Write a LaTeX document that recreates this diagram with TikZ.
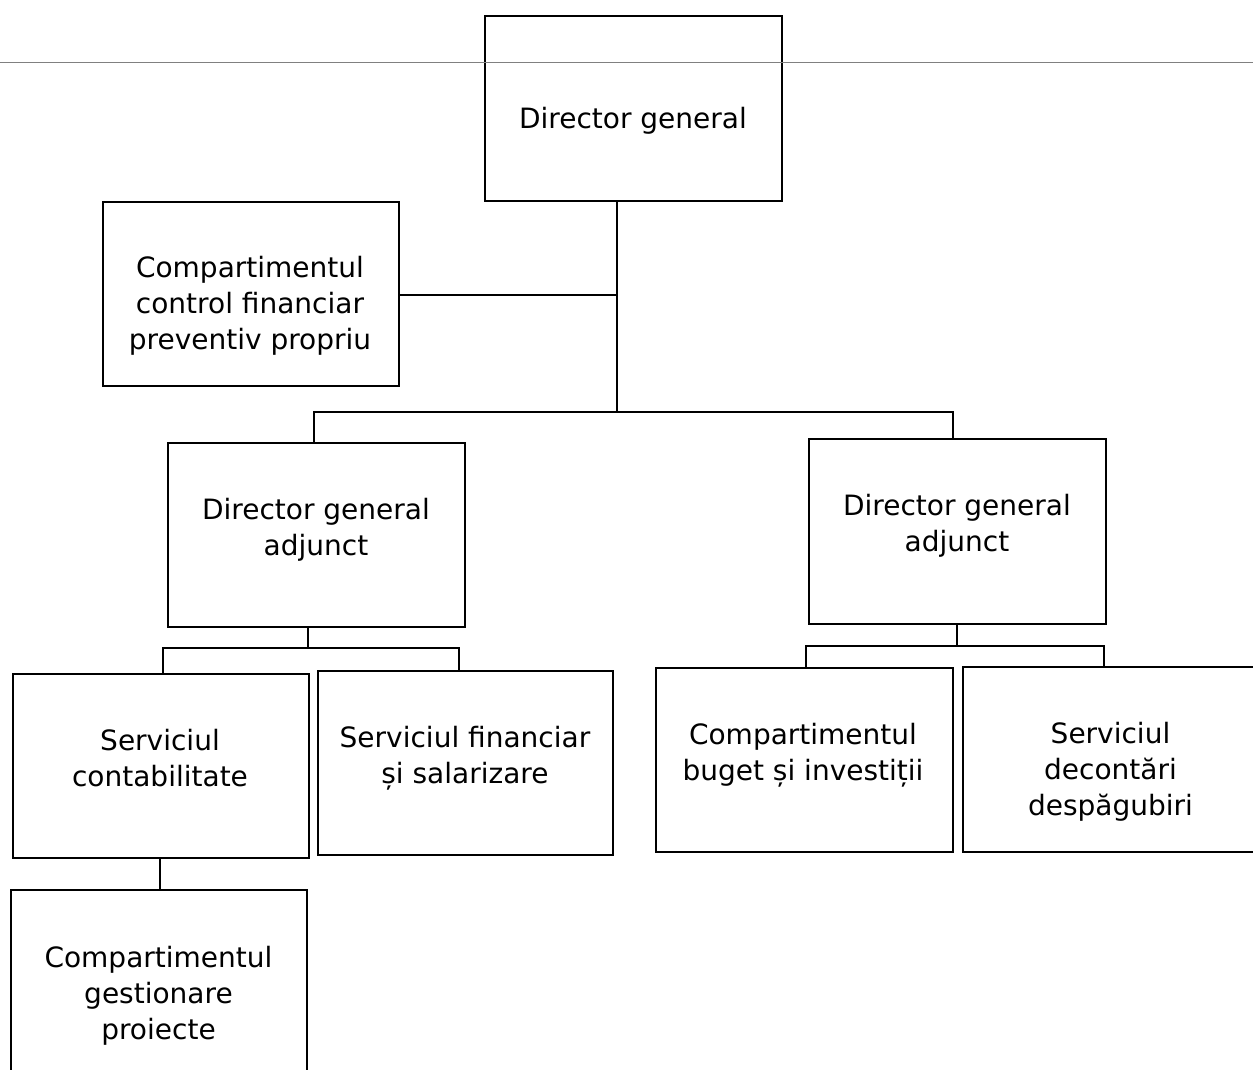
\documentclass[tikz,border=0pt]{standalone}
\usepackage{fontspec}
\setmainfont{DejaVu Sans}
\begin{document}
\begin{tikzpicture}[x=1pt,y=-1pt,
  box/.style={draw=black, line width=2.3pt, inner sep=0pt, outer sep=0pt, minimum width=296pt, minimum height=184pt},
  lbl/.style={anchor=base, align=center, inner sep=0pt, font=\fontsize{28}{36}\selectfont, text=black},
  conn/.style={draw=black, line width=2.3pt, line cap=rect},
  rule/.style={draw=black!50, line width=1pt}]
\useasboundingbox (0,0) rectangle (1253,1070);
\clip (0,0) rectangle (1253,1070);
\fill[white] (0,0) rectangle (1253,1070);
% boxes
\node[box, minimum width=297pt, minimum height=185pt] (dg) at (633.5,108.5) {};
\node[box] (cfp) at (251,294) {};
\node[box, minimum width=297pt] (dga1) at (316.5,535) {};
\node[box, minimum width=297pt, minimum height=185pt] (dga2) at (957.5,531.5) {};
\node[box] (sc) at (161,766) {};
\node[box, minimum width=295pt] (sf) at (465.5,763) {};
\node[box, minimum width=297pt] (cb) at (804.5,760) {};
\node[box, minimum height=185pt] (sd) at (1111,759.5) {};
\node[box] (cg) at (159,982) {};
% texts (base anchor = baseline of the last line)
\node[lbl] (tdg) at (633,128.5) {Director general};
\node[lbl] (tcfp) at (250,349.5) {Compartimentul\\control financiar\\preventiv propriu};
\node[lbl] (tdga1) at (316,555.5) {Director general\\adjunct};
\node[lbl] (tdga2) at (957,551.5) {Director general\\adjunct};
\node[lbl] (tsc) at (160,786.5) {Serviciul\\contabilitate};
\node[lbl] (tsf) at (465,783.5) {Serviciul financiar\\și salarizare};
\node[lbl] (tcb) at (803,780.5) {Compartimentul\\buget și investiții};
\node[lbl] (tsd) at (1110.5,815.5) {Serviciul\\decontări\\despăgubiri};
\node[lbl] (tcg) at (158.5,1039.5) {Compartimentul\\gestionare\\proiecte};
% junction coordinates
\coordinate (j0) at (617,412);
\coordinate (j0a) at (617,295);
\coordinate (j0l) at (314,412);
\coordinate (j0r) at (953,412);
\coordinate (j1) at (308,648);
\coordinate (j1l) at (163,648);
\coordinate (j1r) at (459,648);
\coordinate (j2) at (957,646);
\coordinate (j2l) at (806,646);
\coordinate (j2r) at (1104,646);
\coordinate (j3) at (160,874);
% connectors
\draw[conn] (j0 |- dg.south) -- (j0);
\draw[conn] (cfp.east |- j0a) -- (j0a);
\draw[conn] (j0l |- dga1.north) -- (j0l) -- (j0r) -- (j0r |- dga2.north);
\draw[conn] (j1 |- dga1.south) -- (j1);
\draw[conn] (j1l |- sc.north) -- (j1l) -- (j1r) -- (j1r |- sf.north);
\draw[conn] (j2 |- dga2.south) -- (j2);
\draw[conn] (j2l |- cb.north) -- (j2l) -- (j2r) -- (j2r |- sd.north);
\draw[conn] (j3 |- sc.south) -- (j3 |- cg.north);
% top rule
\draw[rule] (0,63) -- (1253,63);
\end{tikzpicture}
\end{document}
